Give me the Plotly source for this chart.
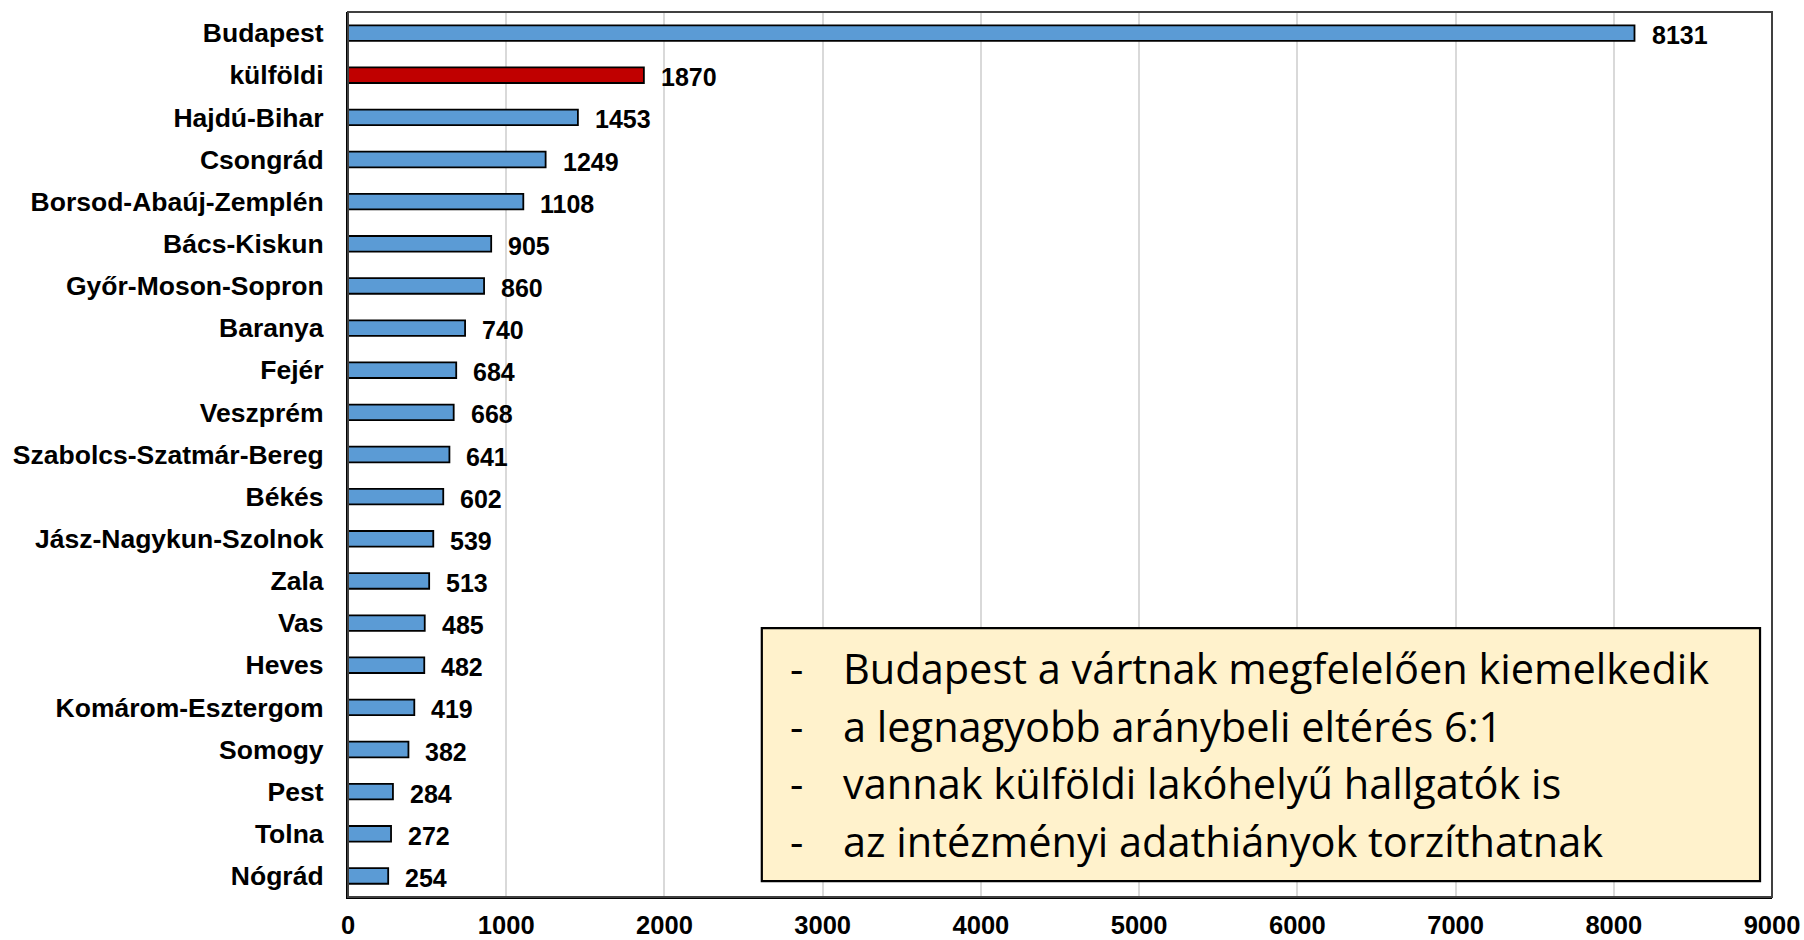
import plotly.graph_objects as go

categories = ["Budapest", "külföldi", "Hajdú-Bihar", "Csongrád", "Borsod-Abaúj-Zemplén",
              "Bács-Kiskun", "Győr-Moson-Sopron", "Baranya", "Fejér", "Veszprém",
              "Szabolcs-Szatmár-Bereg", "Békés", "Jász-Nagykun-Szolnok", "Zala", "Vas",
              "Heves", "Komárom-Esztergom", "Somogy", "Pest", "Tolna", "Nógrád"]
values = [8131, 1870, 1453, 1249, 1108, 905, 860, 740, 684, 668, 641, 602, 539,
          513, 485, 482, 419, 382, 284, 272, 254]
highlight = "külföldi"
x_ticks = [0, 1000, 2000, 3000, 4000, 5000, 6000, 7000, 8000, 9000]
notes = ["Budapest a vártnak megfelelően kiemelkedik",
         "a legnagyobb aránybeli eltérés 6:1",
         "vannak külföldi lakóhelyű hallgatók is",
         "az intézményi adathiányok torzíthatnak"]

BLUE = "#5B9BD5"
RED = "#C00000"
colors = [RED if c == highlight else BLUE for c in categories]
FONT = "Arial, Liberation Sans, sans-serif"

fig = go.Figure()
fig.add_trace(go.Bar(
    y=categories, x=values, orientation="h",
    marker=dict(color=colors, line=dict(color="black", width=1.8)),
    hoverinfo="x+y",
))

for c, v in zip(categories, values):
    fig.add_annotation(x=v, y=c, xref="x", yref="y", text=f"<b>{v}</b>",
                       showarrow=False, xanchor="left", yanchor="middle",
                       xshift=15, yshift=-2,
                       font=dict(family=FONT, size=25, color="black"))

fig.update_layout(
    width=1804, height=940,
    margin=dict(l=348, r=32, t=12, b=43, autoexpand=False),
    paper_bgcolor="white", plot_bgcolor="white",
    bargap=0.63,
    showlegend=False,
    font=dict(family=FONT, color="black"),
)
fig.update_xaxes(
    range=[0, 9000], tickvals=x_ticks, ticktext=[f"<b>{t}</b>" for t in x_ticks],
    showgrid=True, gridcolor="#D9D9D9", gridwidth=1.5,
    showline=True, linecolor="black", linewidth=2.2,
    ticks="", ticklabelstandoff=4, zeroline=False, automargin=False,
    tickfont=dict(family=FONT, size=25.5, color="black"),
)
fig.update_yaxes(
    categoryorder="array", categoryarray=categories, autorange="reversed",
    tickvals=categories, ticktext=[f"<b>{c}</b>" for c in categories],
    showgrid=False, showline=True, linecolor="black", linewidth=2.2,
    ticks="", ticklabelstandoff=17, automargin=False,
    tickfont=dict(family=FONT, size=26.5, color="black"),
)

# plot frame
fig.add_shape(type="rect", xref="paper", yref="paper", x0=0, x1=1, y0=0, y1=1,
              line=dict(color="#404040", width=2), fillcolor="rgba(0,0,0,0)", layer="above")

# note box
bx0, bx1, by0, by1 = 0.2906, 0.9916, 0.018, 0.3038
fig.add_shape(type="rect", xref="paper", yref="paper", x0=bx0, x1=bx1, y0=by0, y1=by1,
              line=dict(color="black", width=2.2), fillcolor="#FFF2CC", layer="above")

line_y = [0.2586, 0.1931, 0.1287, 0.0632]
NOTE_FONT = "Open Sans, Noto Sans, sans-serif"
for t, yy in zip(notes, line_y):
    fig.add_annotation(xref="paper", yref="paper", x=(788 - 348) / 1424, y=yy,
                       text="-", showarrow=False, xanchor="left", yanchor="middle",
                       font=dict(family=NOTE_FONT, size=41.5, color="black"))
    fig.add_annotation(xref="paper", yref="paper", x=(841 - 348) / 1424, y=yy,
                       text=t, showarrow=False, xanchor="left", yanchor="middle",
                       font=dict(family=NOTE_FONT, size=41.5, color="black"))

fig.write_html("out.html", config={"displayModeBar": False},
               post_script="document.body.style.margin='0';document.body.style.overflow='hidden';")
